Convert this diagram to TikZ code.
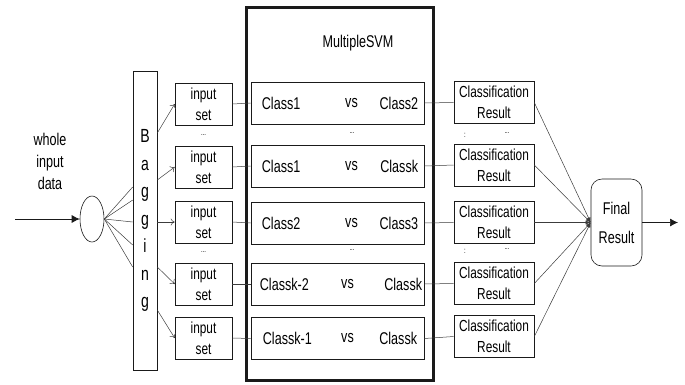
\documentclass[tikz,border=0pt]{standalone}
\usepackage{fontspec}
\setmainfont{Liberation Sans}[FakeStretch=0.74]
\usepackage{tikz}
\usepackage{xcolor}
\usetikzlibrary{arrows.meta,positioning,shapes,calc}
\definecolor{ink}{HTML}{1A1A1A}
\definecolor{wiregray}{HTML}{3C3C3C}
\tikzset{
  setbox/.style={draw=ink,line width=0.6pt,minimum width=57pt,
                 minimum height=42pt,inner sep=0pt,align=center,
                 font=\fontsize{16}{21}\selectfont},
  svmbox/.style={draw=ink,line width=0.6pt,minimum width=173pt,
                 minimum height=42pt,inner sep=0pt},
  resbox/.style={draw=ink,line width=0.6pt,minimum width=80pt,
                 minimum height=42pt,inner sep=0pt,align=center,
                 font=\fontsize{16}{21}\selectfont},
  finalbox/.style={draw=ink,line width=0.6pt,rounded corners=11pt,
                   minimum width=51pt,minimum height=87pt,inner sep=0pt,
                   align=center,font=\fontsize{17}{29}\selectfont},
  bagbox/.style={draw=ink,line width=0.6pt,minimum width=24pt,
                 minimum height=299pt,inner sep=0pt,align=center,
                 font=\fontsize{19}{27.5}\selectfont},
  txt/.style={inner sep=0pt,font=\fontsize{17}{22}\selectfont},
  dotlbl/.style={inner sep=0pt,font=\fontsize{8}{8}\selectfont},
  wire/.style={draw=wiregray,line width=0.5pt},
  openarr/.style={-{To[length=4pt,width=7pt]},line width=0.5pt,
                  draw=wiregray},
  tiparr/.style={-{Latex[length=5pt,width=4pt]},line width=0.5pt,
                 draw=wiregray},
  solidarr/.style={-{Latex[length=8pt,width=8pt]},line width=0.7pt,
                   draw=ink}
}
\begin{document}
\begin{tikzpicture}[x=1pt,y=-1pt]
    \path[use as bounding box] (0,0) rectangle (685,384);

    \node[txt,align=center] (whole) at (50,161) {whole\\input\\data};
    \node[draw=ink,line width=0.6pt,ellipse,minimum width=24pt,
          minimum height=46pt,inner sep=0pt] (split) at (92,219) {};
    \coordinate (src) at (15,219);
    \draw[solidarr] (src) -- (split.west);

    \node[bagbox] (bag) at (145,220.5) {B\\a\\g\\g\\i\\n\\g};
    \draw[wire] (split.east) -- ($(bag.west)+(0,-33.5)$);
    \draw[wire] (split.east) -- ($(bag.west)+(0,-20.5)$);
    \draw[wire] (split.east) -- ($(bag.west)+(0,1.5)$);
    \draw[wire] (split.east) -- ($(bag.west)+(0,24.5)$);
    \draw[wire] (split.east) -- ($(bag.west)+(0,46.5)$);

    \node[setbox] (inA) at (203.5,104) {input\\set};
    \node[setbox] (inB) at (203.5,167) {input\\set};
    \node[setbox] (inC) at (203.5,222) {input\\set};
    \node[setbox] (inD) at (203.5,284) {input\\set};
    \node[setbox] (inE) at (203.5,338) {input\\set};
    \node[dotlbl] (inDotsA) at (203.5,135) {...};
    \node[dotlbl] (inDotsB) at (203.5,252) {...};
    \draw[openarr] ($(bag.east)+(0,-87.5)$) -- (inA.west);
    \draw[openarr] ($(bag.east)+(0,-40.5)$) -- (inB.west);
    \draw[openarr] ($(bag.east)+(0,1.5)$) -- (inC.west);
    \draw[openarr] ($(bag.east)+(0,46.5)$) -- (inD.west);
    \draw[openarr] ($(bag.east)+(0,89.5)$) -- (inE.west);

    \node[draw=ink,line width=3pt,minimum width=187pt,minimum height=373pt,
          inner sep=0pt] (multi) at (340,194) {};
    \node[txt] (title) at (358,43) {MultipleSVM};

    \node[svmbox] (svmA) at (337.5,103) {};
    \node[svmbox] (svmB) at (337.5,166) {};
    \node[svmbox] (svmC) at (337.5,223) {};
    \node[svmbox] (svmD) at (337.5,284) {};
    \node[svmbox] (svmE) at (337.5,338.5) {};
    \node[txt,right=11pt of svmA.west] (svmAl) {Class1};
    \node[txt] (svmAv) at ([xshift=14pt]svmA.center) {vs};
    \node[txt,left=6pt of svmA.east] (svmAr) {Class2};
    \node[txt,right=11pt of svmB.west] (svmBl) {Class1};
    \node[txt] (svmBv) at ([xshift=14pt]svmB.center) {vs};
    \node[txt,left=6pt of svmB.east] (svmBr) {Classk};
    \node[txt,right=11pt of svmC.west] (svmCl) {Class2};
    \node[txt] (svmCv) at ([xshift=14pt]svmC.center) {vs};
    \node[txt,left=6pt of svmC.east] (svmCr) {Class3};
    \node[txt,right=9pt of svmD.west] (svmDl) {Classk-2};
    \node[txt] (svmDv) at ([xshift=10pt]svmD.center) {vs};
    \node[txt,left=2pt of svmD.east] (svmDr) {Classk};
    \node[txt,right=12pt of svmE.west] (svmEl) {Classk-1};
    \node[txt] (svmEv) at ([xshift=10pt]svmE.center) {vs};
    \node[txt,left=7pt of svmE.east] (svmEr) {Classk};
    \node[dotlbl] (svmDotsA) at (352,133) {...};
    \node[dotlbl] (svmDotsB) at (352,250) {...};
    \draw[wire] (inA.east) -- (svmA.west);
    \draw[wire] (inB.east) -- (svmB.west);
    \draw[wire] (inC.east) -- (svmC.west);
    \draw[wire] (inD.east) -- (svmD.west);
    \draw[wire] (inE.east) -- (svmE.west);

    \node[resbox] (resA) at (494,102.5) {Classification\\Result};
    \node[resbox] (resB) at (494,165) {Classification\\Result};
    \node[resbox] (resC) at (494,222.5) {Classification\\Result};
    \node[resbox] (resD) at (494,283.5) {Classification\\Result};
    \node[resbox] (resE) at (494,336.5) {Classification\\Result};
    \node[dotlbl] (resColA) at (465,135) {:};
    \node[dotlbl] (resDotsA) at (507,133) {...};
    \node[dotlbl] (resColB) at (465,251) {:};
    \node[dotlbl] (resDotsB) at (507,249) {...};
    \draw[wire] (svmA.east) -- (resA.west);
    \draw[wire] (svmB.east) -- (resB.west);
    \draw[wire] (svmC.east) -- (resC.west);
    \draw[wire] (svmD.east) -- (resD.west);
    \draw[wire] (svmE.east) -- (resE.west);

    \node[finalbox] (final) at (616.5,222.5) {Final\\Result};
    \draw[tiparr] (resA.east) -- (final.west);
    \draw[tiparr] (resB.east) -- (final.west);
    \draw[tiparr] (resC.east) -- (final.west);
    \draw[tiparr] (resD.east) -- (final.west);
    \draw[tiparr] (resE.east) -- (final.west);
    \coordinate (out) at (678,222.5);
    \draw[solidarr] (final.east) -- (out);
  \end{tikzpicture}
\end{document}
